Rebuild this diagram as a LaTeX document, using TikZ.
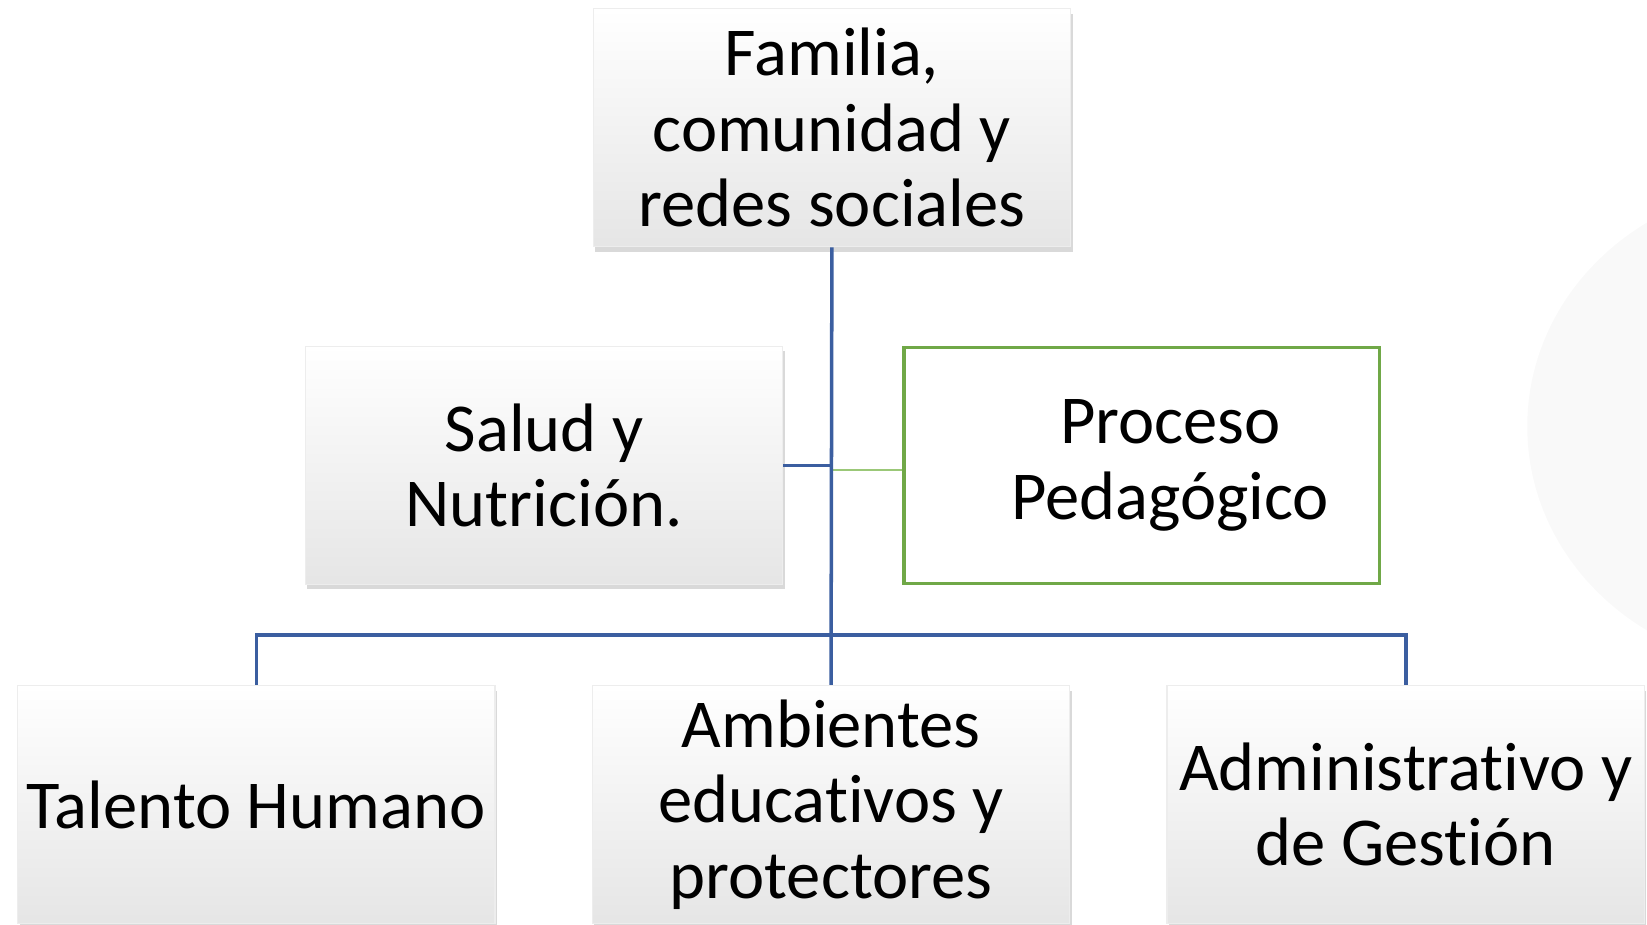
\documentclass[tikz,border=0pt]{standalone}
\usepackage{fontspec}
\setmainfont{Carlito}[Ligatures=NoCommon]
\usetikzlibrary{positioning, shadows}

\definecolor{linkblue}{RGB}{59,94,160}
\definecolor{boxgreen}{RGB}{112,168,71}
\definecolor{linkgreen}{RGB}{155,200,120}
\definecolor{bgcurve}{RGB}{249,249,249}

\begin{document}
\begin{tikzpicture}[
  x=0.010504cm, y=-0.010504cm,
  area/.style={rectangle, draw=black!7, top color=white, middle color=black!1.5, bottom color=black!10, drop shadow={shadow xshift=0.02cm, shadow yshift=-0.05cm, opacity=0.3}, minimum width=4.77cm, minimum height=2.38cm, inner sep=2pt, align=center, font=\fontsize{19.5}{21.5}\selectfont},
  areafocus/.style={rectangle, draw=boxgreen, line width=1pt, fill=white, minimum width=4.75cm, minimum height=2.36cm, inner sep=2pt, align=center, font=\fontsize{19.5}{21.5}\selectfont},
  link/.style={draw=linkblue, line width=1pt},
  sublink/.style={draw=linkgreen, line width=0.6pt}
]

\useasboundingbox (0,0) rectangle (1568,880);
\begin{scope}
  \clip (0,0) rectangle (1568,880);
  \fill[bgcurve] (1700,406) ellipse [x radius=246, y radius=230];
\end{scope}

\node[area] (fam) at (792,121.5) {Familia,\\comunidad y\\redes sociales};
\node[area] (salud) at (518,443) {Salud y\\Nutrición.};
\node[areafocus] (proc) at (1087,443) {\hspace*{0.57cm}Proceso\\\hspace*{0.57cm}Pedagógico};

\node[area] (tal) at (244,766) {Talento Humano};
\node[area, right=0.96cm of tal] (amb) {Ambientes\\educativos y\\protectores};
\node[area, right=0.96cm of amb] (adm) {Administrativo y\\de Gestión};

\coordinate[above=0.5cm of amb.north] (bus);

\draw[sublink] ([yshift=-1.2pt]proc.west) -- ([yshift=-1.2pt]proc.west -| fam.south);
\draw[link] (fam.south) -- (amb.north);
\draw[link] (salud.east) -- (salud.east -| fam.south);
\draw[link] (tal.north) |- (bus) -| (adm.north);

\end{tikzpicture}
\end{document}
